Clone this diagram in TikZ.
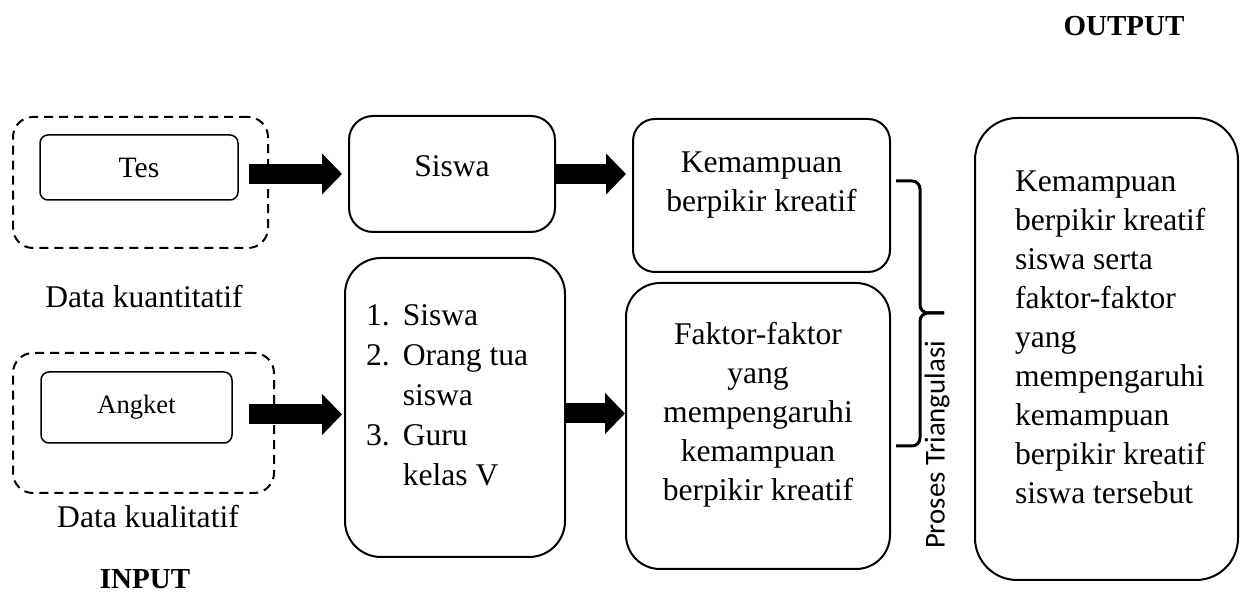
\documentclass[tikz,border=0pt]{standalone}
\usepackage{fontspec}
\setmainfont{Liberation Serif}
\newfontfamily\sansfont{Carlito}
\usetikzlibrary{arrows.meta}
\renewcommand{\arraystretch}{1.026}

\begin{document}
\begin{tikzpicture}[x=0.5pt, y=-0.5pt, font=\fontsize{15.8}{19.5}\selectfont,
  box/.style={draw, line width=1pt, rounded corners=#1, inner sep=0pt},
  box/.default=10pt,
  datagroup/.style={draw, line width=1pt, dash pattern=on 4.5pt off 3pt, rounded corners=10pt},
  inbox/.style={draw, line width=0.75pt, rounded corners=4pt},
  blockarrow/.style={line width=10pt, -{Triangle[length=10pt, width=20pt]}},
  triline/.style={line width=1.5pt, rounded corners=4pt},
  heading/.style={font=\fontsize{14.5}{17}\selectfont\bfseries}]
\useasboundingbox (0,0) rectangle (1249,598);

\node[heading] (output) at (1124,26) {OUTPUT};
\node[heading] (input) at (145,579) {INPUT};

\node[datagroup, minimum width=127.5pt, minimum height=65.5pt] (quant) at (140.5,182.5) {};
\node[inbox, minimum width=99pt, minimum height=32.5pt, font=\fontsize{14.8}{17}\selectfont] (tes) at (139,167.5) {Tes};
\node (quantlabel) at (144,297) {Data kuantitatif};

\node[datagroup, minimum width=130.5pt, minimum height=70pt] (qual) at (143.5,423) {};
\node[inbox, minimum width=95.5pt, minimum height=35.5pt, font=\fontsize{13.3}{16}\selectfont] (angket) at (136.5,407.5) {Angket};
\node (quallabel) at (148,517) {Data kualitatif};

\node[box=12pt, minimum width=103pt, minimum height=58pt] (siswa) at (452,174) {};
\node (siswatext) at (452,166) {Siswa};

\node[box=18pt, minimum width=110pt, minimum height=149.5pt] (list) at (455,407.5) {};
\node[anchor=west] (listtext) at (359,397.5) {\begin{tabular}{@{}l@{\hspace{6.5pt}}l@{}}
  1. & Siswa\\
  2. & Orang tua\\
     & siswa\\
  3. & Guru\\
     & kelas V
\end{tabular}};

\node[box=11pt, minimum width=128.5pt, minimum height=76.5pt] (kemampuan) at (761.5,195.5) {};
\node[align=center] (kemampuantext) at (761.5,185) {Kemampuan\\berpikir kreatif};

\node[box=17pt, minimum width=132pt, minimum height=143pt] (faktor) at (758,426) {};
\node[align=center] (faktortext) at (758,415) {Faktor-faktor\\yang\\mempengaruhi\\kemampuan\\berpikir kreatif};

\node[box=21pt, minimum width=131.5pt, minimum height=231pt] (hasil) at (1106.5,349) {};
\node[anchor=west, align=left] (hasiltext) at (1008,337) {Kemampuan\\berpikir kreatif\\siswa serta\\faktor-faktor\\yang\\mempengaruhi\\kemampuan\\berpikir kreatif\\siswa tersebut};

\draw[blockarrow, shorten <=5pt, shorten >=3pt] (tes.east |- siswa.west) -- (siswa.west);
\draw[blockarrow, shorten >=3pt] (siswa.east) -- (siswa.east -| kemampuan.west);
\draw[blockarrow, shorten <=8pt, shorten >=1pt] ([yshift=-3.5pt]angket.east) -- ([yshift=-3.5pt]angket.east -| list.west);
\draw[blockarrow] ([yshift=-3pt]list.east) -- ([yshift=-3pt]list.east -| faktor.west);

\coordinate (tip) at (944,313);
\draw[triline] (kemampuan.east |- 0,181) ++(5,0) -| (tip -| 920,0) -- (tip);
\draw[triline] (faktor.east |- 0,446) ++(5,0) -| (tip -| 920,0) -- (tip);
\node[rotate=90, font=\sansfont\fontsize{14.4}{17}\selectfont] (proses) at (937,445) {Proses Triangulasi};
\end{tikzpicture}
\end{document}
